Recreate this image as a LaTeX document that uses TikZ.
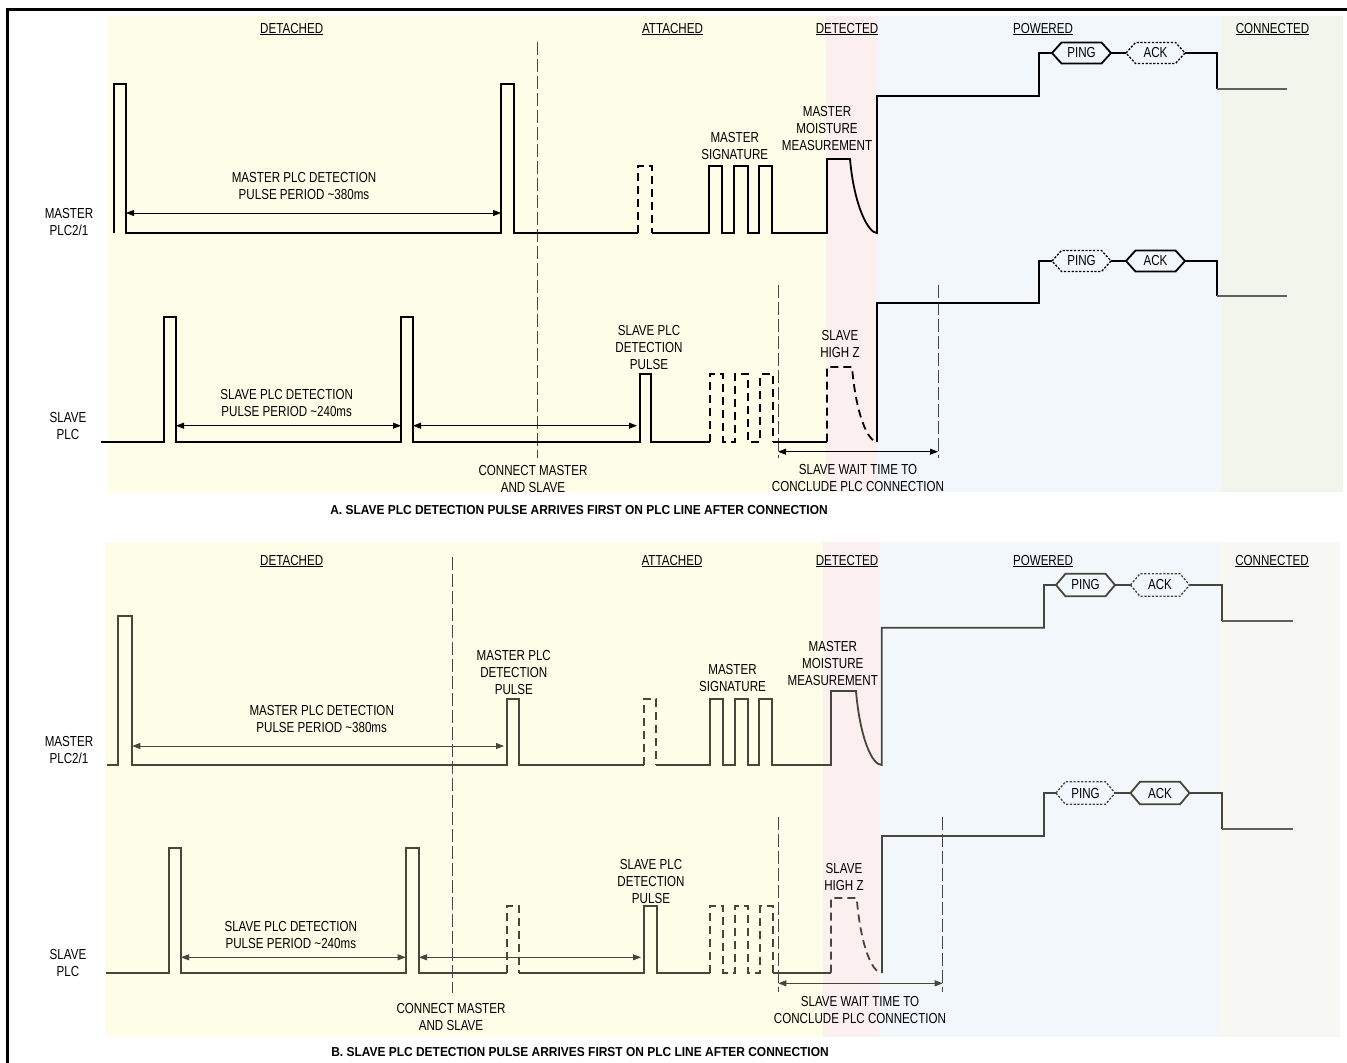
\documentclass[tikz,border=0pt]{standalone}
\usepackage{fontspec}
\setmainfont{Liberation Sans}[FakeStretch=0.80]
\newfontfamily\capfont{Liberation Sans}[FakeStretch=0.92]
\usetikzlibrary{arrows.meta}
\definecolor{bgyel}{HTML}{FEFDE8}
\definecolor{bgpink}{HTML}{FBEFEF}
\definecolor{bgblue}{HTML}{F2F7FB}
\definecolor{bggrnA}{HTML}{F2F5EC}
\definecolor{bggrnB}{HTML}{F7F8F3}
\definecolor{inkB}{HTML}{46463A}
\newcommand\hexsig[6]{%
  \draw[#1, shift={(#3,#4)}] (-29.5,0) -- (-20,-#5) -- (20,-#5) -- (29.5,0) -- (20,#5) -- (-20,#5) -- cycle;
  \coordinate (#2-w) at (#3-29.5,#4);
  \coordinate (#2-e) at (#3+29.5,#4);
  \node[lbl] (#2) at (#3,#4) {#6};}
\tikzset{
 lbl/.style={font=\fontsize{14.5}{17}\selectfont, align=center, inner sep=0pt, text=black},
 hdr/.style={font=\fontsize{14.5}{17}\selectfont, inner sep=0pt, anchor=base},
 captxt/.style={font=\capfont\bfseries\fontsize{13}{15}\selectfont, inner sep=0pt},
 waveA/.style={line width=1.8pt, draw=black},
 waveB/.style={line width=1.8pt, draw=inkB},
 dashwave/.style={dash pattern=on 8pt off 5pt},
 dotwave/.style={dash pattern=on 2.2pt off 1.6pt, line width=1.3pt},
 conn/.style={draw=gray!55!black, line width=0.9pt, dash pattern=on 13pt off 4pt},
 dim/.style={line width=0.8pt, {Triangle[length=8pt,width=6pt]}-{Triangle[length=8pt,width=6pt]}},
 greyend/.style={line width=1.8pt, draw=gray!75!black}
}
\begin{document}
\begin{tikzpicture}[x=1pt,y=-1pt]
\useasboundingbox (0,0) rectangle (1347,1063);
% backgrounds A
\fill[bgyel] (107,16) rectangle (826,492);
\fill[bgpink] (826,16) rectangle (878,492);
\fill[bgblue] (878,16) rectangle (1221,492);
\fill[bggrnA] (1221,16) rectangle (1343,492);
% backgrounds B
\fill[bgyel] (105,542) rectangle (823,1037);
\fill[bgpink] (823,542) rectangle (880,1037);
\fill[bgblue] (880,542) rectangle (1218,1037);
\fill[bggrnB] (1218,542) rectangle (1340,1037);
% border
\draw[line width=2.6pt] (1347,9.5) -- (7.5,9.5) -- (7.5,1063);

% ===== Panel A =====
\node[hdr] (hA1) at (291.7,33) {\underline{DETACHED}};
\node[hdr] (hA2) at (672.5,33) {\underline{ATTACHED}};
\node[hdr] (hA3) at (847,33) {\underline{DETECTED}};
\node[hdr] (hA4) at (1043,33) {\underline{POWERED}};
\node[hdr] (hA5) at (1272.5,33) {\underline{CONNECTED}};

\coordinate (cA1) at (537.7,42);
\coordinate (cA2) at (537.7,458);
\draw[conn] (cA1) -- (cA2);
\coordinate (wA1) at (778,285);
\coordinate (wA2) at (778,458);
\draw[conn] (wA1) -- (wA2);
\coordinate (wA3) at (938,285);
\coordinate (wA4) at (938,458);
\draw[conn] (wA3) -- (wA4);

% master A
\draw[waveA] (114,233) -- (114,84) -- (126,84) -- (126,233) -- (501,233) -- (501,84) -- (514,84) -- (514,233) -- (638,233);
\draw[waveA,dashwave] (638,233) -- (638,166) -- (652,166) -- (652,233);
\draw[waveA] (652,233) -- (709,233) -- (709,166) -- (722,166) -- (722,233) -- (734,233) -- (734,166) -- (748,166) -- (748,233) -- (759,233) -- (759,166) -- (772,166) -- (772,233) -- (827,233) -- (827,159) -- (850,159) .. controls (854,205) and (868,233) .. (877,233) -- (877,96) -- (1039,96) -- (1039,53) -- (1052,53);
\hexsig{waveA}{pingA}{1081.5}{53}{10.5}{PING}
\hexsig{waveA,dotwave}{ackA}{1155.5}{53}{10.5}{ACK}
\draw[waveA] (pingA-e) -- (ackA-w);
\draw[waveA] (ackA-e) -- (1217,53) -- (1217,89);
\draw[greyend] (1217,89) -- (1287,89);

% slave A
\draw[waveA] (101,441.7) -- (164,441.7) -- (164,316.7) -- (176,316.7) -- (176,441.7) -- (401,441.7) -- (401,316.7) -- (413,316.7) -- (413,441.7) -- (640,441.7) -- (640,374) -- (651,374) -- (651,441.7) -- (710,441.7);
\draw[waveA,dashwave] (710,441.7) -- (710,374) -- (723,374) -- (723,441.7) -- (735,441.7) -- (735,374) -- (748,374) -- (748,441.7) -- (760,441.7) -- (760,374) -- (773,374) -- (773,441.7);
\draw[waveA] (773,441.7) -- (827,441.7);
\draw[waveA,dashwave] (827,441.7) -- (827,367) -- (852,367) .. controls (856,415) and (868,441.7) .. (877,441.7);
\draw[waveA] (877,441.7) -- (877,303) -- (1039,303) -- (1039,261) -- (1052,261);
\hexsig{waveA,dotwave}{pingA2}{1081.5}{261}{10.5}{PING}
\hexsig{waveA}{ackA2}{1155.5}{261}{10.5}{ACK}
\draw[waveA] (pingA2-e) -- (ackA2-w);
\draw[waveA] (ackA2-e) -- (1217,261) -- (1217,296);
\draw[greyend] (1217,296) -- (1287,296);

% arrows A
\coordinate (aA1) at (126,213);
\coordinate (aA2) at (501,213);
\draw[dim] (aA1) -- (aA2);
\coordinate (aA3) at (176,425.7);
\coordinate (aA4) at (401,425.7);
\draw[dim] (aA3) -- (aA4);
\coordinate (aA5) at (413,425.7);
\coordinate (aA6) at (637,425.7);
\draw[dim] (aA5) -- (aA6);
\coordinate (aA7) at (778,451.7);
\coordinate (aA8) at (938,451.7);
\draw[dim] (aA7) -- (aA8);

% labels A
\node[lbl] (mA) at (69,222) {MASTER\\PLC2/1};
\node[lbl] (sA) at (68,426) {SLAVE\\PLC};
\node[lbl] (mpA) at (304,186) {MASTER PLC DETECTION\\PULSE PERIOD \textasciitilde380ms};
\node[lbl] (msA) at (734.7,146) {MASTER\\SIGNATURE};
\node[lbl] (mmA) at (827,129) {MASTER\\MOISTURE\\MEASUREMENT};
\node[lbl] (spA) at (286.7,403.3) {SLAVE PLC DETECTION\\PULSE PERIOD \textasciitilde240ms};
\node[lbl] (sdA) at (649,348) {SLAVE PLC\\DETECTION\\PULSE};
\node[lbl] (shA) at (840,344) {SLAVE\\HIGH Z};
\node[lbl] (cmA) at (533,479) {CONNECT MASTER\\AND SLAVE};
\node[lbl] (swA) at (858,478) {SLAVE WAIT TIME TO\\CONCLUDE PLC CONNECTION};
\node[captxt] (capA) at (579,510) {A. SLAVE PLC DETECTION PULSE ARRIVES FIRST ON PLC LINE AFTER CONNECTION};

% ===== Panel B =====
\node[hdr] (hB1) at (291.7,565) {\underline{DETACHED}};
\node[hdr] (hB2) at (672,565) {\underline{ATTACHED}};
\node[hdr] (hB3) at (847,565) {\underline{DETECTED}};
\node[hdr] (hB4) at (1043,565) {\underline{POWERED}};
\node[hdr] (hB5) at (1272,565) {\underline{CONNECTED}};

\coordinate (cB1) at (452.7,557);
\coordinate (cB2) at (452.7,993);
\draw[conn] (cB1) -- (cB2);
\coordinate (wB1) at (778.3,816.7);
\coordinate (wB2) at (778.3,991.7);
\draw[conn] (wB1) -- (wB2);
\coordinate (wB3) at (942.7,816.7);
\coordinate (wB4) at (942.7,991.7);
\draw[conn] (wB3) -- (wB4);

% master B
\draw[waveB] (107,765) -- (117.7,765) -- (117.7,615.7) -- (132.3,615.7) -- (132.3,765) -- (507.3,765) -- (507.3,699) -- (519.3,699) -- (519.3,765) -- (644,765);
\draw[waveB,dashwave] (644,765) -- (644,699) -- (656,699) -- (656,765);
\draw[waveB] (656,765) -- (710,765) -- (710,699) -- (723,699) -- (723,765) -- (735,765) -- (735,699) -- (748,699) -- (748,765) -- (759,765) -- (759,699) -- (772,699) -- (772,765) -- (831,765) -- (831,691) -- (856,691) .. controls (860,738) and (872,765) .. (881.7,765) -- (881.7,627.7) -- (1044,627.7) -- (1044,585) -- (1056,585);
\hexsig{waveB}{pingB}{1085.5}{585}{11.3}{PING}
\hexsig{waveB,dotwave}{ackB}{1160}{585}{11.3}{ACK}
\draw[waveB] (pingB-e) -- (ackB-w);
\draw[waveB] (ackB-e) -- (1221.7,585) -- (1221.7,621);
\draw[greyend] (1221.7,621) -- (1292.7,621);

% slave B
\draw[waveB] (106,972.7) -- (169,972.7) -- (169,848.3) -- (181,848.3) -- (181,972.7) -- (405.7,972.7) -- (405.7,848.3) -- (419,848.3) -- (419,972.7) -- (506.7,972.7);
\draw[waveB,dashwave] (506.7,972.7) -- (506.7,906) -- (519.3,906) -- (519.3,972.7);
\draw[waveB] (519.3,972.7) -- (644.3,972.7) -- (644.3,906) -- (656.7,906) -- (656.7,972.7) -- (710,972.7);
\draw[waveB,dashwave] (710,972.7) -- (710,906) -- (723,906) -- (723,972.7) -- (735,972.7) -- (735,906) -- (748,906) -- (748,972.7) -- (760,972.7) -- (760,906) -- (773,906) -- (773,972.7);
\draw[waveB] (773,972.7) -- (831,972.7);
\draw[waveB,dashwave] (831,972.7) -- (831,898) -- (856.7,898) .. controls (860.7,946) and (872,972.7) .. (881.7,972.7);
\draw[waveB] (881.7,972.7) -- (881.7,835.7) -- (1044,835.7) -- (1044,793) -- (1056,793);
\hexsig{waveB,dotwave}{pingB2}{1085.5}{793}{11.3}{PING}
\hexsig{waveB}{ackB2}{1160}{793}{11.3}{ACK}
\draw[waveB] (pingB2-e) -- (ackB2-w);
\draw[waveB] (ackB2-e) -- (1221.7,793) -- (1221.7,829);
\draw[greyend] (1221.7,829) -- (1292.7,829);

% arrows B
\coordinate (aB1) at (132.3,746);
\coordinate (aB2) at (504,746);
\draw[dim,draw=inkB,fill=inkB] (aB1) -- (aB2);
\coordinate (aB3) at (181,957.3);
\coordinate (aB4) at (405.7,957.3);
\draw[dim,draw=inkB,fill=inkB] (aB3) -- (aB4);
\coordinate (aB5) at (419,957.3);
\coordinate (aB6) at (641,957.3);
\draw[dim,draw=inkB,fill=inkB] (aB5) -- (aB6);
\coordinate (aB7) at (778.3,983.3);
\coordinate (aB8) at (942.7,983.3);
\draw[dim,draw=inkB,fill=inkB] (aB7) -- (aB8);

% labels B
\node[lbl] (mB) at (69,750) {MASTER\\PLC2/1};
\node[lbl] (sB) at (68,963.3) {SLAVE\\PLC};
\node[lbl] (mpB) at (321.7,719) {MASTER PLC DETECTION\\PULSE PERIOD \textasciitilde380ms};
\node[lbl] (mdB) at (513.8,672) {MASTER PLC\\DETECTION\\PULSE};
\node[lbl] (msB) at (732.5,677.5) {MASTER\\SIGNATURE};
\node[lbl] (mmB) at (832.8,663.3) {MASTER\\MOISTURE\\MEASUREMENT};
\node[lbl] (spB) at (290.8,935) {SLAVE PLC DETECTION\\PULSE PERIOD \textasciitilde240ms};
\node[lbl] (sdB) at (651,881.7) {SLAVE PLC\\DETECTION\\PULSE};
\node[lbl] (shB) at (844,876.7) {SLAVE\\HIGH Z};
\node[lbl] (cmB) at (451,1017) {CONNECT MASTER\\AND SLAVE};
\node[lbl] (swB) at (860,1010.3) {SLAVE WAIT TIME TO\\CONCLUDE PLC CONNECTION};
\node[captxt] (capB) at (580,1051.7) {B. SLAVE PLC DETECTION PULSE ARRIVES FIRST ON PLC LINE AFTER CONNECTION};
\end{tikzpicture}
\end{document}
